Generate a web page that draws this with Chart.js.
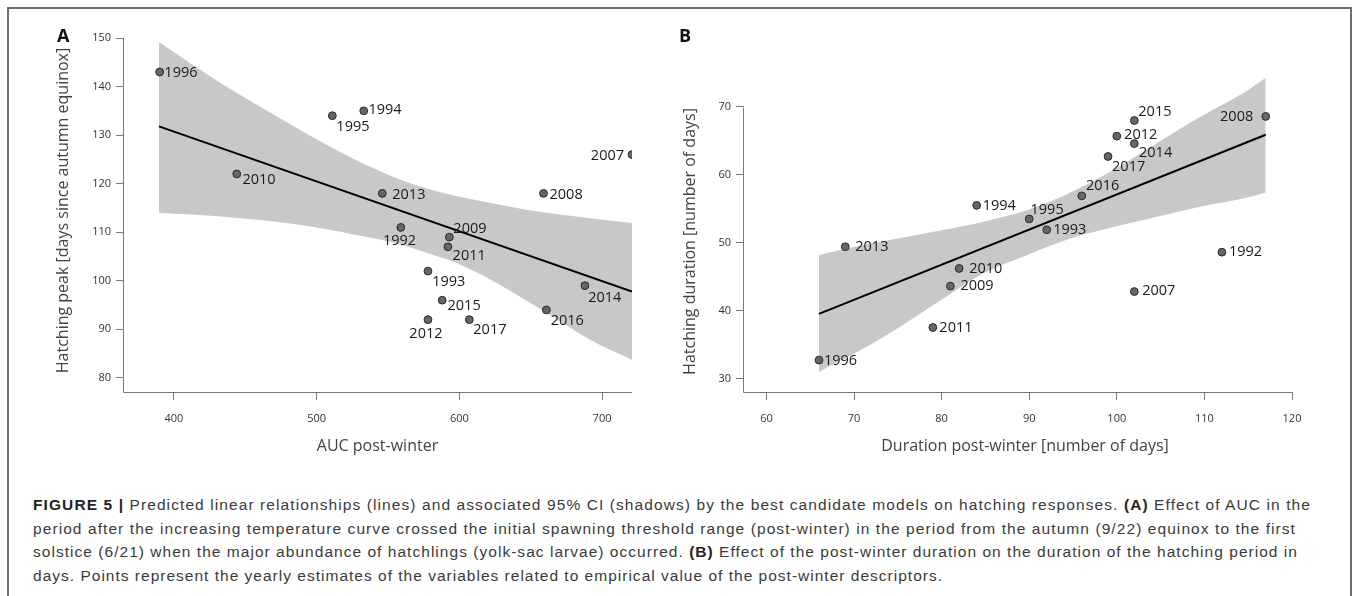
<!DOCTYPE html>
<html><head><meta charset="utf-8">
<script src="https://cdn.jsdelivr.net/npm/chart.js@4/dist/chart.umd.min.js"></script>
<style>
html,body{margin:0;padding:0;background:#fff;overflow:hidden;width:1357px;height:596px;}
#frame{position:absolute;left:7px;top:7px;width:1345px;height:700px;border:2px solid #6e6e6e;box-sizing:border-box;}
canvas{position:absolute;top:0;}
#cA{left:0px}
#cB{left:680px}
.panel{position:absolute;font-family:'Open Sans';font-weight:700;font-size:18px;line-height:18px;color:#111;}
.cap{position:absolute;left:33px;font-family:'Liberation Sans',Arial,sans-serif;font-size:15.5px;line-height:18px;color:#3a3a3a;white-space:nowrap;}
.cap b{color:#222;}
</style></head><body>
<div id="frame"></div>
<canvas id="cA" width="680" height="470"></canvas>
<canvas id="cB" width="677" height="470"></canvas>
<div class="panel" style="left:57px;top:26px">A</div>
<div class="panel" style="left:679px;top:26px">B</div>
<div class="cap" data-right="1311" style="top:495.6px"><b>FIGURE 5 |</b> Predicted linear relationships (lines) and associated 95% CI (shadows) by the best candidate models on hatching responses. <b>(A)</b> Effect of AUC in the</div>
<div class="cap" data-right="1296" style="top:519.6px">period after the increasing temperature curve crossed the initial spawning threshold range (post-winter) in the period from the autumn (9/22) equinox to the first</div>
<div class="cap" data-right="1298" style="top:543.1px">solstice (6/21) when the major abundance of hatchlings (yolk-sac larvae) occurred. <b>(B)</b> Effect of the post-winter duration on the duration of the hatching period in</div>
<div class="cap" data-right="943" style="top:567.1px">days. Points represent the yearly estimates of the variables related to empirical value of the post-winter descriptors.</div>
<script>
// ---------- data ----------
const YEARS = [1992,1993,1994,1995,1996,2007,2008,2009,2010,2011,2012,2013,2014,2015,2016,2017];

// Panel A
const A_AUC  = [559,578,533,511,390,721,659,593,444,592,578,546,688,588,661,607];
const A_PEAK = [111,102,135,134,143,126,118,109,122,107,92,118,99,96,94,92];
const A_FIT_X = [389.5, 721];
const A_FIT_Y = [131.8, 97.8];
const A_CI_X     = [389.5, 435, 481.8, 505, 528.5, 552, 575, 598.5, 622, 646, 669, 692, 721];
const A_CI_UPPER = [149.2, 140.3, 132.2, 128.3, 124.7, 121.6, 119.2, 117.4, 116.0, 114.7, 113.7, 112.9, 111.9];
const A_CI_LOWER = [114.0, 113.2, 111.8, 110.7, 109.4, 108.0, 106.0, 103.6, 100.2, 96.1, 92.0, 87.8, 83.7];
const A_XTICKS = [400, 500, 600, 700];
const A_YTICKS = [80, 90, 100, 110, 120, 130, 140, 150];

// Panel B
const B_DUR   = [112,92,84,90,66,102,117,81,82,79,100,69,102,102,96,99];
const B_HATCH = [48.6,51.9,55.5,53.5,32.7,42.8,68.6,43.6,46.2,37.5,65.7,49.4,64.6,68.0,56.9,62.7];
const B_FIT_X = [66, 117];
const B_FIT_Y = [39.5, 65.9];
const B_CI_X     = [66, 70.1, 75, 79.9, 84.8, 89.8, 94.7, 99.6, 104.5, 109.5, 114.4, 117];
const B_CI_UPPER = [48.2, 49.4, 50.6, 51.8, 53.1, 54.8, 57.4, 60.7, 64.6, 68.5, 72.0, 74.3];
const B_CI_LOWER = [31.0, 33.7, 37.4, 41.5, 45.5, 48.2, 50.6, 52.3, 53.8, 55.3, 56.5, 57.4];
const B_XTICKS = [60, 70, 80, 90, 100, 110, 120];
const B_YTICKS = [30, 40, 50, 60, 70];

// ---------- styles (label placement: dx, dy from point, alignment) ----------
const A_LABEL_POS = [[-1.3,12.7,'center'],[4.3,9.7,'left'],[4.7,-2,'left'],[4,10,'left'],[4.7,0,'left'],[-8,0,'right'],[6,0,'left'],[4,-9.3,'left'],[5.7,5.3,'left'],[4.7,7.7,'left'],[-2,12.7,'center'],[10,0,'left'],[3.3,11,'left'],[5.3,5,'left'],[4.3,10,'left'],[4,9.3,'left']];
const B_LABEL_POS = [[7,-1.3,'left'],[6.5,-1,'left'],[6,-1,'left'],[1.3,-10.3,'left'],[5,0,'left'],[7.8,-1.3,'left'],[-12.5,-1,'right'],[10,-1,'left'],[10,-1,'left'],[6.5,-1,'left'],[7.3,-2.7,'left'],[10,-1,'left'],[4.7,8,'left'],[4,-9.3,'left'],[4.3,-10.7,'left'],[4,9.3,'left']];

const LABEL_SIZE = 14.5;
const AXIS_COLOR = '#7a7a7a';
const TITLE_COLOR = '#3d4449';

// caption: fit each line to the reference line length
document.querySelectorAll('.cap').forEach(el => {
  el.style.letterSpacing = '0px';
  const w = el.getBoundingClientRect().width;
  const n = el.textContent.length;
  const target = parseFloat(el.dataset.right) - 33;
  el.style.letterSpacing = ((target - w) / n) + 'px';
});

const annot = {
  id: 'annot',
  afterDatasetsDraw(chart, args, o) {
    const ctx = chart.ctx;
    const meta = chart.getDatasetMeta(0);
    ctx.save();
    ctx.font = LABEL_SIZE + "px 'Open Sans'";
    ctx.fillStyle = '#1a1a1a';
    ctx.textBaseline = 'alphabetic';
    meta.data.forEach((pt, i) => {
      const p = o.pos[i];
      ctx.textAlign = p[2];
      ctx.fillText(String(YEARS[i]), pt.x + p[0], pt.y + p[1] + 0.36 * LABEL_SIZE);
    });
    ctx.restore();
  },
  afterDraw(chart, args, o) {
    const ctx = chart.ctx, ca = chart.chartArea;
    const ys = chart.scales.y;
    ctx.save();
    ctx.strokeStyle = AXIS_COLOR;
    ctx.lineWidth = 1;
    const topTick = ys.getPixelForValue(o.yTop);
    ctx.beginPath();
    ctx.moveTo(Math.round(ca.left) - 0.5, Math.round(topTick) + 0.5);
    ctx.lineTo(Math.round(ca.left) - 0.5, Math.round(ca.bottom) + 0.5);
    ctx.lineTo(Math.round(ca.right), Math.round(ca.bottom) + 0.5);
    ctx.stroke();
    // titles
    ctx.fillStyle = TITLE_COLOR;
    ctx.font = "16px 'Open Sans'";
    ctx.textAlign = 'center';
    ctx.textBaseline = 'alphabetic';
    ctx.fillText(o.xTitle, o.xTitleX, o.xTitleBase);
    ctx.translate(o.yTitleBase, o.yTitleY);
    ctx.rotate(-Math.PI / 2);
    ctx.fillText(o.yTitle, 0, 0);
    ctx.restore();
  }
};

function makeChart(id, c) {
  const pts = c.xs.map((x, i) => ({x: x, y: c.ys[i]}));
  const fit = c.fitX.map((x, i) => ({x: x, y: c.fitY[i]}));
  const up = c.ciX.map((x, i) => ({x: x, y: c.ciU[i]}));
  const lo = c.ciX.map((x, i) => ({x: x, y: c.ciL[i]}));
  const tickFont = {family: "'Open Sans'", size: 11};
  return new Chart(document.getElementById(id), {
    type: 'scatter',
    data: {datasets: [
      {label: 'years', data: pts, pointRadius: 3.9, pointHoverRadius: 3.9, pointBackgroundColor: '#666666', pointBorderColor: '#2a2a2a', pointBorderWidth: 1, showLine: false, order: 0},
      {type: 'line', label: 'fit', data: fit, borderColor: '#000', borderWidth: 2, pointRadius: 0, fill: false, order: 1},
      {type: 'line', label: 'ci upper', data: up, borderColor: 'rgba(0,0,0,0)', borderWidth: 0, pointRadius: 0, backgroundColor: '#c8c8c8', fill: '+1', cubicInterpolationMode: 'monotone', order: 2},
      {type: 'line', label: 'ci lower', data: lo, borderColor: 'rgba(0,0,0,0)', borderWidth: 0, pointRadius: 0, fill: false, cubicInterpolationMode: 'monotone', order: 3}
    ]},
    options: {
      responsive: false, animation: false, devicePixelRatio: 1,
      layout: {padding: {left: 0, right: c.padRight, top: c.padTop, bottom: 0}},
      plugins: {legend: {display: false}, tooltip: {enabled: false},
        annot: {pos: c.pos, yTop: c.yTicks[c.yTicks.length - 1], xTitle: c.xTitle, xTitleX: c.xTitleX, xTitleBase: 450.5, yTitle: c.yTitle, yTitleY: c.yTitleY, yTitleBase: c.yTitleBase}},
      scales: {
        x: {type: 'linear', min: c.xMin, max: c.xMax,
          afterBuildTicks: s => { s.ticks = c.xTicks.map(v => ({value: v})); },
          afterFit: s => { s.height = 78; },
          border: {display: false},
          grid: {display: true, drawOnChartArea: false, drawTicks: true, tickLength: 8, color: AXIS_COLOR},
          ticks: {font: tickFont, color: '#333', padding: 12, maxRotation: 0, autoSkip: false}},
        y: {type: 'linear', min: c.yMin, max: c.yMax,
          afterBuildTicks: s => { s.ticks = c.yTicks.map(v => ({value: v})); },
          afterFit: s => { s.width = c.yAxisW; },
          border: {display: false},
          grid: {display: true, drawOnChartArea: false, drawTicks: true, tickLength: 8, color: AXIS_COLOR},
          ticks: {font: tickFont, color: '#333', padding: 5, autoSkip: false}}
      }
    },
    plugins: [annot]
  });
}

makeChart('cA', {xs: A_AUC, ys: A_PEAK, fitX: A_FIT_X, fitY: A_FIT_Y, ciX: A_CI_X, ciU: A_CI_UPPER, ciL: A_CI_LOWER,
  xTicks: A_XTICKS, yTicks: A_YTICKS, xMin: 365, xMax: 721, yMin: 77.1, yMax: 150,
  padRight: 48, padTop: 38, yAxisW: 124, pos: A_LABEL_POS,
  xTitle: 'AUC post-winter', xTitleX: 377.5, yTitle: 'Hatching peak [days since autumn equinox]', yTitleY: 210.5, yTitleBase: 68});

makeChart('cB', {xs: B_DUR, ys: B_HATCH, fitX: B_FIT_X, fitY: B_FIT_Y, ciX: B_CI_X, ciU: B_CI_UPPER, ciL: B_CI_LOWER,
  xTicks: B_XTICKS, yTicks: B_YTICKS, xMin: 57.44, xMax: 120, yMin: 28, yMax: 75,
  padRight: 65, padTop: 73, yAxisW: 64, pos: B_LABEL_POS,
  xTitle: 'Duration post-winter [number of days]', xTitleX: 345, yTitle: 'Hatching duration [number of days]', yTitleY: 241.5, yTitleBase: 15});
</script>
</body></html>
